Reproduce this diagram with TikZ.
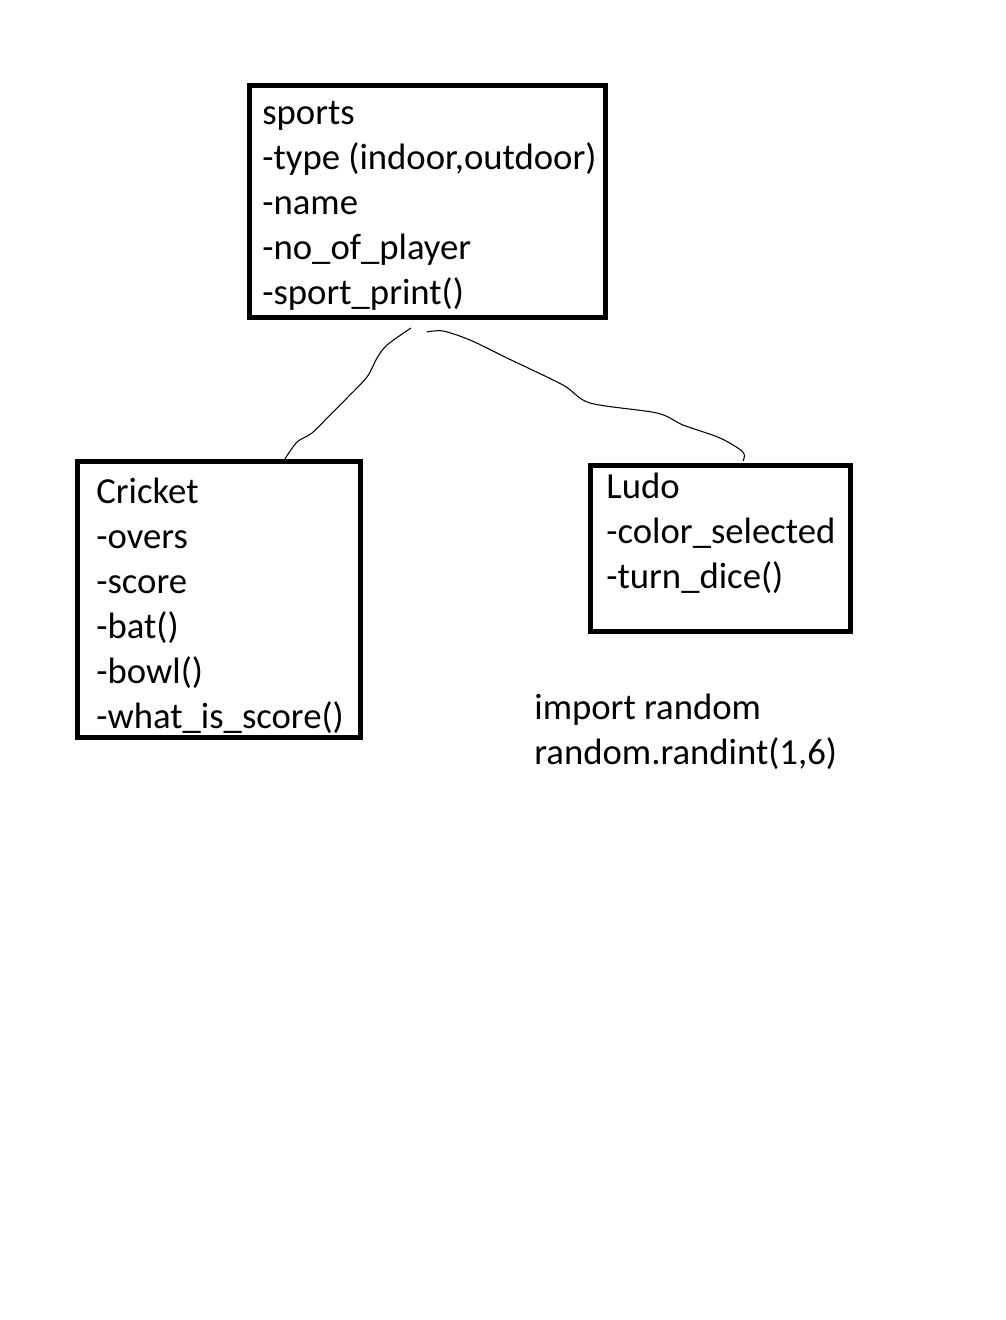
\documentclass[tikz,border=0pt]{standalone}
\usepackage{fontspec}
\setmainfont{Carlito}
\usepackage{tikz}

\begin{document}
\begin{tikzpicture}[x=0.02cm, y=-0.02cm,
  classbox/.style={draw, line width=0.1cm, inner sep=0pt},
  members/.style={align=left, inner sep=0pt, font=\fontsize{20.9}{25.6}\selectfont},
  wire/.style={line width=0.6pt, line join=round}]
  \fill[white] (0,0) rectangle (1006,1320);
  \useasboundingbox (0,0) rectangle (1006,1320);
  \node[classbox, minimum width=7.13cm, minimum height=4.64cm] (sports) at (427.75,201.5) {};
  \node[classbox, minimum width=5.656cm, minimum height=5.52cm] (cricket) at (218.9,599.5) {};
  \node[classbox, minimum width=5.22cm, minimum height=3.32cm] (ludo) at (720.5,548.5) {};
  \node[members, anchor=base west] (sportstext) at (262,304.5) {sports\\-type (indoor,outdoor)\\-name\\-no\_of\_player\\-sport\_print()};
  \node[members, anchor=base west] (crickettext) at (96,728.5) {Cricket\\-overs\\-score\\-bat()\\-bowl()\\-what\_is\_score()};
  \node[members, anchor=base west] (ludotext) at (606,588.5) {Ludo\\-color\_selected\\-turn\_dice()};
  \node[members, anchor=base west] (randomtext) at (534,764.5) {import random\\random.randint(1,6)};
  \draw[wire] plot[smooth, tension=0.5] coordinates {([shift={(-16.75,8)}]sports.south) (387,345) (377,358) (367,377) (347,398) (332,413) (312,433) (297,442) ([shift={(66,0)}]cricket.north)};
  \draw[wire] plot[smooth, tension=0.5] coordinates {([shift={(-1,12)}]sports.south) (443,331) (470,340) (507,358) (563,385) (590,403) (657,413) (683,425) (720,438) (743,452) ([shift={(22.5,-2)}]ludo.north)};
\end{tikzpicture}
\end{document}
